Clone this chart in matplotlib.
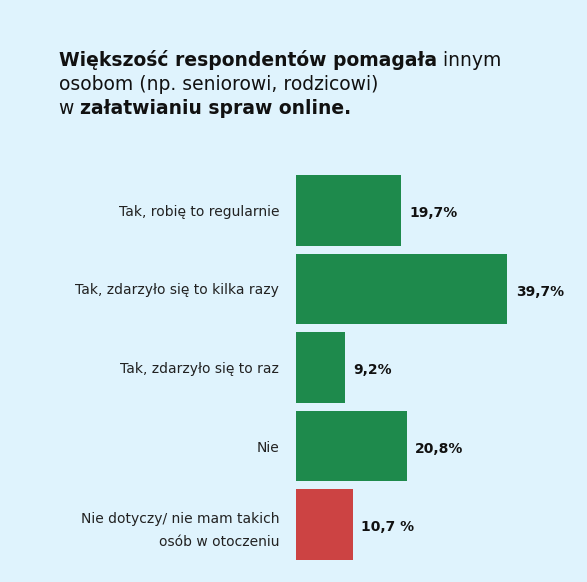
import matplotlib
matplotlib.use("Agg")
import matplotlib.pyplot as plt

categories = ["Tak, robię to regularnie", "Tak, zdarzyło się to kilka razy",
              "Tak, zdarzyło się to raz", "Nie",
              "Nie dotyczy/ nie mam takich\nosób w otoczeniu"]
values = [19.7, 39.7, 9.2, 20.8, 10.7]
value_labels = ["19,7%", "39,7%", "9,2%", "20,8%", "10,7 %"]
colors = ["#1e8a4c", "#1e8a4c", "#1e8a4c", "#1e8a4c", "#cc4343"]

bg = "#dff3fd"
plt.rcParams['font.family'] = ['DejaVu Sans']
fig = plt.figure(figsize=(5.87, 5.82), dpi=100, facecolor=bg)
ax = fig.add_axes([296/587, 18/582, 213/587, 393/582])
ax.set_facecolor(bg)
y = list(range(len(categories)))
ax.barh(y, values, height=0.9, color=colors)
ax.set_xlim(0, 40)
ax.set_ylim(4.5, -0.5)
for s in ax.spines.values():
    s.set_visible(False)
ax.set_xticks([])
ax.set_yticks(y)
ax.set_yticklabels(categories, fontsize=10, color="#222222", linespacing=1.8)
ax.tick_params(axis='y', length=0, pad=12)
for yi, v, lab in zip(y, values, value_labels):
    ax.annotate(lab, (v, yi), xytext=(6, -2), textcoords='offset points',
                va='center', ha='left', fontsize=10, fontweight='bold', color="#111111",
                annotation_clip=False)

lines = [[("Większość respondentów pomagała", True), (" innym", False)],
         [("osobom (np. seniorowi, rodzicowi)", False)],
         [("w ", False), ("załatwianiu spraw online.", True)]]
y0 = 1 - 66/582
renderer = fig.canvas.get_renderer()
for i, parts in enumerate(lines):
    x = 59
    for txt, b in parts:
        t = fig.text(x/587, y0 - i*24/582, txt, fontsize=13.5, color="#111111",
                     fontweight='bold' if b else 'normal', va='baseline')
        x += t.get_window_extent(renderer).width
fig.savefig("out.png", dpi=100, facecolor=bg)
